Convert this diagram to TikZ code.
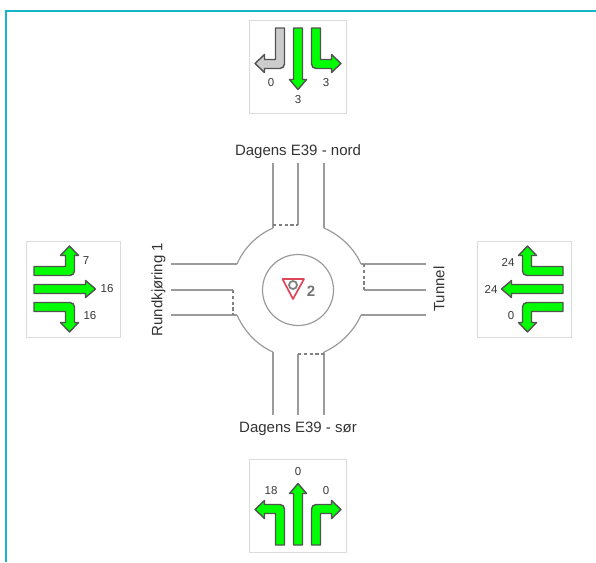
\documentclass[tikz,border=0pt]{standalone}
\usepackage{fontspec}
\setmainfont{Liberation Sans}
\usepackage{xcolor}
\definecolor{framecol}{RGB}{22,182,200}
\definecolor{lanegreen}{RGB}{0,255,0}
\definecolor{lanegray}{RGB}{204,204,204}
\definecolor{roadcol}{RGB}{155,155,155}
\definecolor{yieldred}{RGB}{222,70,90}
\tikzset{
    panel/.style={draw=black!14,fill=white,line width=1pt,minimum width=#1,minimum height=93pt,inner sep=0pt},
    panel/.default=97pt,
    lanearrow/.style={draw=black!68,line width=1.4pt,line join=round},
    count/.style={font=\fontsize{11.5}{13}\selectfont,text=black!78,inner sep=0pt},
    roadname/.style={font=\fontsize{15}{16}\selectfont,text=black!80,inner sep=0pt},
    road/.style={draw=roadcol,line width=1.2pt},
    stopline/.style={draw=black!50,line width=1.7pt,dash pattern=on 3.4pt off 2.4pt},
    straightlane/.pic={
        \filldraw[lanearrow] (-4.5,-39) -- (4.5,-39) -- (4.5,12.5) -- (8.5,12.5) -- (0,22.5) -- (-8.5,12.5) -- (-4.5,12.5) -- cycle;
    },
    rightlane/.pic={
        \filldraw[lanearrow] (13.5,-39) -- (22.5,-39) -- (22.5,-7.5) -- (33.5,-7.5) -- (33.5,-12.5) -- (43,-3.5) -- (33.5,5.5) -- (33.5,1.5)
            [rounded corners=4.5pt] -- (13.5,1.5) [sharp corners] -- cycle;
    },
    leftlane/.pic={
        \filldraw[lanearrow] (-13.5,-39) -- (-22.5,-39) -- (-22.5,-7.5) -- (-33.5,-7.5) -- (-33.5,-12.5) -- (-43,-3.5) -- (-33.5,5.5) -- (-33.5,1.5)
            [rounded corners=4.5pt] -- (-13.5,1.5) [sharp corners] -- cycle;
    },
}
\begin{document}
\begin{tikzpicture}[x=1pt,y=-1pt,>=stealth]
    \useasboundingbox (0,0) rectangle (596,562);
    \draw[framecol,line width=2pt] (6,562) -- (6,11) -- (596,11);

    % north panel
    \node[panel] (panelnorth) at (298,67) {};
    \pic[fill=lanegray] at (panelnorth) {leftlane};
    \pic[fill=lanegreen] at (panelnorth) {straightlane};
    \pic[fill=lanegreen] at (panelnorth) {rightlane};
    \node[count] (northleft) at (271,83) {0};
    \node[count] (northright) at (326,83) {3};
    \node[count] (northstraight) at (298,100) {3};

    % south panel
    \node[panel] (panelsouth) at (298,506) {};
    \pic[fill=lanegreen,rotate=180] at (panelsouth) {leftlane};
    \pic[fill=lanegreen,rotate=180] at (panelsouth) {straightlane};
    \pic[fill=lanegreen,rotate=180] at (panelsouth) {rightlane};
    \node[count] (southstraight) at (298,472) {0};
    \node[count] (southleft) at (271,491) {18};
    \node[count] (southright) at (326,491) {0};

    % west panel
    \node[panel=94pt,minimum height=96pt] (panelwest) at (73,289) {};
    \pic[fill=lanegreen,rotate=90] at (panelwest) {leftlane};
    \pic[fill=lanegreen,rotate=90] at (panelwest) {straightlane};
    \pic[fill=lanegreen,rotate=90] at (panelwest) {rightlane};
    \node[count] (westup) at (86,261) {7};
    \node[count] (weststraight) at (107,289) {16};
    \node[count] (westdown) at (90,316) {16};

    % east panel
    \node[panel=94pt,minimum height=96pt] (paneleast) at (524,289) {};
    \pic[fill=lanegreen,rotate=-90] at (paneleast) {leftlane};
    \pic[fill=lanegreen,rotate=-90] at (paneleast) {straightlane};
    \pic[fill=lanegreen,rotate=-90] at (paneleast) {rightlane};
    \node[count] (eastup) at (508,262) {24};
    \node[count] (eaststraight) at (491,289) {24};
    \node[count] (eastdown) at (511,316) {0};

    % roundabout
    \coordinate (hub) at (298,290);
    \draw[road] (273,163) -- (273,228);
    \draw[road] (298,163) -- (298,225);
    \draw[road] (324,163) -- (324,228);
    \draw[road] (171,264) -- (237,264);
    \draw[road] (171,290) -- (233,290);
    \draw[road] (171,315) -- (237,315);
    \draw[road] (361,264) -- (426,264);
    \draw[road] (364,290) -- (426,290);
    \draw[road] (361,315) -- (426,315);
    \draw[road] (273,352) -- (273,415);
    \draw[road] (298,354) -- (298,415);
    \draw[road] (324,352) -- (324,415);
    \draw[road] (273,228) .. controls (257,235) and (244,248) .. (237,264);
    \draw[road] (324,228) .. controls (340,235) and (354,248) .. (361,264);
    \draw[road] (237,315) .. controls (244,331) and (257,345) .. (273,352);
    \draw[road] (361,315) .. controls (354,331) and (340,345) .. (324,352);
    \draw[stopline] (273,225) -- (298,225);
    \draw[stopline] (233,290) -- (233,315);
    \draw[stopline] (364,264) -- (364,290);
    \draw[stopline] (298,354) -- (324,354);
    \draw[road] (hub) circle (35.5);

    % yield sign
    \draw[black!50,line width=1.8pt] (293,285) circle (4);
    \draw[yieldred,line width=1.7pt,line join=round] (282.5,279) -- (304,279) -- (293,299) -- cycle;
    \node[inner sep=0pt,text=black!55,font=\fontsize{15}{15}\selectfont\bfseries] (ringno) at (311,291) {2};

    % road names
    \node[roadname] (namenorth) at (298,152) {Dagens E39 - nord};
    \node[roadname] (namesouth) at (298,429) {Dagens E39 - sør};
    \node[roadname,rotate=90] (namewest) at (158.5,289.5) {Rundkjøring 1};
    \node[roadname,rotate=90] (nameeast) at (439,289) {Tunnel};
\end{tikzpicture}
\end{document}
